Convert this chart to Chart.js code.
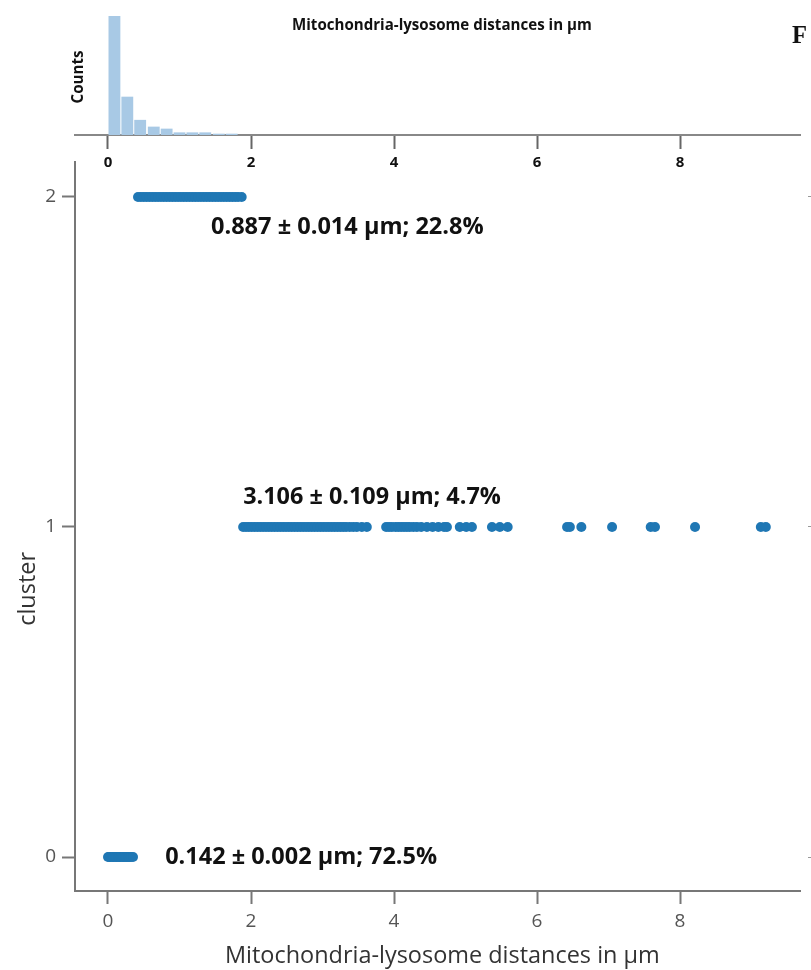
<!DOCTYPE html>
<html lang="en">
<head>
    <meta charset="UTF-8">
    <title>Mitochondria-lysosome clusters</title>
    <script src="https://cdn.jsdelivr.net/npm/chart.js"></script>
    <style>
        body{margin:0; background:#fff;}
        #wrap{position:relative; width:811px; height:970px;}
        #wrap canvas{position:absolute; left:0; top:0;}
    </style>
</head>
<body>
<div id="wrap">
    <canvas id="mainChart" width="811" height="970"></canvas>
    <canvas id="histChart" width="811" height="175"></canvas>
</div>
<script>
    // ---- data ----
    const xTicks = [0, 2, 4, 6, 8];
    const yTicks = [0, 1, 2];

    const histCenters = [0.09, 0.27, 0.45, 0.64, 0.82, 1.00, 1.18, 1.36, 1.55, 1.73];
    const histCounts  = [1180, 380, 150, 83, 63, 26, 26, 26, 13, 13];

    const cluster0 = [0.00, 0.02, 0.04, 0.06, 0.08, 0.10, 0.12, 0.14, 0.16, 0.18, 0.20, 0.22,
                      0.24, 0.26, 0.28, 0.30, 0.32, 0.35];
    const cluster1 = [1.89, 1.93, 1.97, 2.01, 2.05, 2.09, 2.13, 2.17, 2.21, 2.25, 2.29, 2.33,
                      2.37, 2.41, 2.45, 2.49, 2.53, 2.57, 2.61, 2.65, 2.69, 2.73, 2.77, 2.81,
                      2.85, 2.89, 2.93, 2.97, 3.01, 3.05, 3.09, 3.13, 3.17, 3.21, 3.25, 3.29,
                      3.33, 3.38, 3.43, 3.48, 3.55, 3.62, 3.89, 3.93, 3.97, 4.02, 4.06, 4.10,
                      4.14, 4.18, 4.22, 4.27, 4.32, 4.38, 4.46, 4.54, 4.62, 4.70, 4.74, 4.92,
                      5.01, 5.09, 5.37, 5.48, 5.59, 6.42, 6.46, 6.62, 7.05, 7.59, 7.65, 8.21,
                      9.13, 9.20];
    const cluster2 = [0.42, 0.46, 0.50, 0.54, 0.58, 0.62, 0.66, 0.70, 0.74, 0.78, 0.82, 0.86,
                      0.90, 0.94, 0.98, 1.02, 1.06, 1.10, 1.14, 1.18, 1.22, 1.26, 1.30, 1.34,
                      1.38, 1.42, 1.46, 1.50, 1.54, 1.58, 1.62, 1.66, 1.70, 1.74, 1.78, 1.82, 1.87];

    const clusterLabels = ["0.142 ± 0.002 μm; 72.5%", "3.106 ± 0.109 μm; 4.7%", "0.887 ± 0.014 μm; 22.8%"];
    const xTitle = "Mitochondria-lysosome distances in μm";
    const yTitle = "cluster";

    const X_MIN = -0.4615, X_MAX = 9.678;
    const FONT = "'Open Sans', 'Noto Sans', sans-serif";
    const BLUE = "#1f77b4";

    // draw text scaled so it spans a given width
    function fitText(ctx, t){
        ctx.save();
        ctx.font = t.weight + " 20px " + t.family;
        let size = t.size || 20 * t.width / ctx.measureText(t.text).width;
        ctx.font = t.weight + " " + size + "px " + t.family;
        ctx.fillStyle = t.color || "#111";
        ctx.textBaseline = t.baseline || "alphabetic";
        ctx.textAlign = t.align || "left";
        ctx.translate(t.x, t.y);
        if (t.rotate) ctx.rotate(-Math.PI / 2);
        ctx.fillText(t.text, 0, 0);
        ctx.restore();
        return size;
    }

    const mainText = {
        id: "mainText",
        afterDraw(chart){
            const ctx = chart.ctx, sx = chart.scales.x, sy = chart.scales.y;
            // cluster labels, anchored in data units
            const spots = [[0.80, 0], [1.89, 1.091], [1.44, 1.909]];
            const widths = [272, 258, 273];
            clusterLabels.forEach((txt, i) => {
                fitText(ctx, {text: txt, weight: "bold", family: FONT, width: widths[i],
                    x: sx.getPixelForValue(spots[i][0]), y: sy.getPixelForValue(spots[i][1]),
                    baseline: "middle", color: "#111"});
            });
            const s = fitText(ctx, {text: xTitle, weight: "normal", family: FONT, width: 435,
                x: 225, y: 963, color: "#333"});
            fitText(ctx, {text: yTitle, weight: "normal", family: FONT, size: s,
                x: 35, y: 552, rotate: true, align: "right", color: "#333"});
        }
    };

    const histText = {
        id: "histText",
        afterDraw(chart){
            const ctx = chart.ctx;
            fitText(ctx, {text: xTitle, weight: "bold", family: FONT, width: 300, x: 292, y: 30});
            fitText(ctx, {text: "Counts", weight: "bold", family: FONT, width: 53,
                x: 83, y: 77, rotate: true, align: "center"});
            fitText(ctx, {text: "F", weight: "bold", family: "'Liberation Serif', serif", width: 15,
                x: 792, y: 43});
        }
    };

    const pts = (arr, c) => arr.map(v => ({x: v, y: c}));
    const setTicks = vals => scale => { scale.ticks = vals.map(v => ({value: v})); };

    new Chart(document.getElementById("mainChart"), {
        type: "scatter",
        data: {
            datasets: [cluster0, cluster1, cluster2].map((arr, i) => ({
                data: pts(arr, i),
                backgroundColor: BLUE,
                borderWidth: 0,
                pointRadius: 5,
                yAxisID: "y"
            }))
        },
        options: {
            responsive: false,
            animation: false,
            devicePixelRatio: 1,
            layout: {padding: {top: 162, left: 0, right: 0, bottom: 0}},
            plugins: {legend: {display: false}, tooltip: {enabled: false}},
            scales: {
                x: {
                    type: "linear", min: X_MIN, max: X_MAX,
                    afterBuildTicks: setTicks(xTicks),
                    afterFit: s => { s.height = 79; },
                    border: {color: "#777", width: 2},
                    grid: {drawOnChartArea: false, tickLength: 13, color: "#777", tickWidth: 2},
                    ticks: {color: "#555", padding: 6, font: {family: FONT, size: 19}}
                },
                y: {
                    type: "linear", min: -0.103, max: 2.106,
                    afterBuildTicks: setTicks(yTicks),
                    afterFit: s => { s.width = 75; },
                    border: {color: "#777", width: 2},
                    grid: {drawOnChartArea: false, tickLength: 13, color: "#777", tickWidth: 2},
                    ticks: {color: "#555", padding: 6, font: {family: FONT, size: 19}}
                },
                y2: {
                    type: "linear", position: "right", min: -0.103, max: 2.106,
                    afterBuildTicks: setTicks(yTicks),
                    afterFit: s => { s.width = 11; },
                    border: {display: false},
                    grid: {drawOnChartArea: false, tickLength: 11, color: "#999", tickBorderDash: [0, 8, 3, 0]},
                    ticks: {display: false}
                }
            }
        },
        plugins: [mainText]
    });

    new Chart(document.getElementById("histChart"), {
        type: "bar",
        data: {
            datasets: [{
                data: histCenters.map((c, i) => ({x: c, y: histCounts[i]})),
                backgroundColor: "#a8c9e5",
                borderWidth: 0,
                barPercentage: 0.92,
                categoryPercentage: 1
            }]
        },
        options: {
            responsive: false,
            animation: false,
            devicePixelRatio: 1,
            layout: {padding: {top: 16, left: 0, right: 11, bottom: 0}},
            plugins: {legend: {display: false}, tooltip: {enabled: false}},
            scales: {
                x: {
                    type: "linear", min: X_MIN, max: X_MAX, offset: false,
                    afterBuildTicks: setTicks(xTicks),
                    afterFit: s => { s.height = 40; },
                    border: {color: "#888", width: 2},
                    grid: {offset: false, drawOnChartArea: false, tickLength: 14, color: "#666", tickWidth: 2},
                    ticks: {color: "#111", padding: 5, font: {family: FONT, size: 15, weight: "bold"}}
                },
                y: {
                    min: 0, max: 1180,
                    afterFit: s => { s.width = 75; },
                    border: {display: false},
                    grid: {display: false},
                    ticks: {display: false}
                }
            }
        },
        plugins: [histText]
    });
</script>
</body>
</html>
